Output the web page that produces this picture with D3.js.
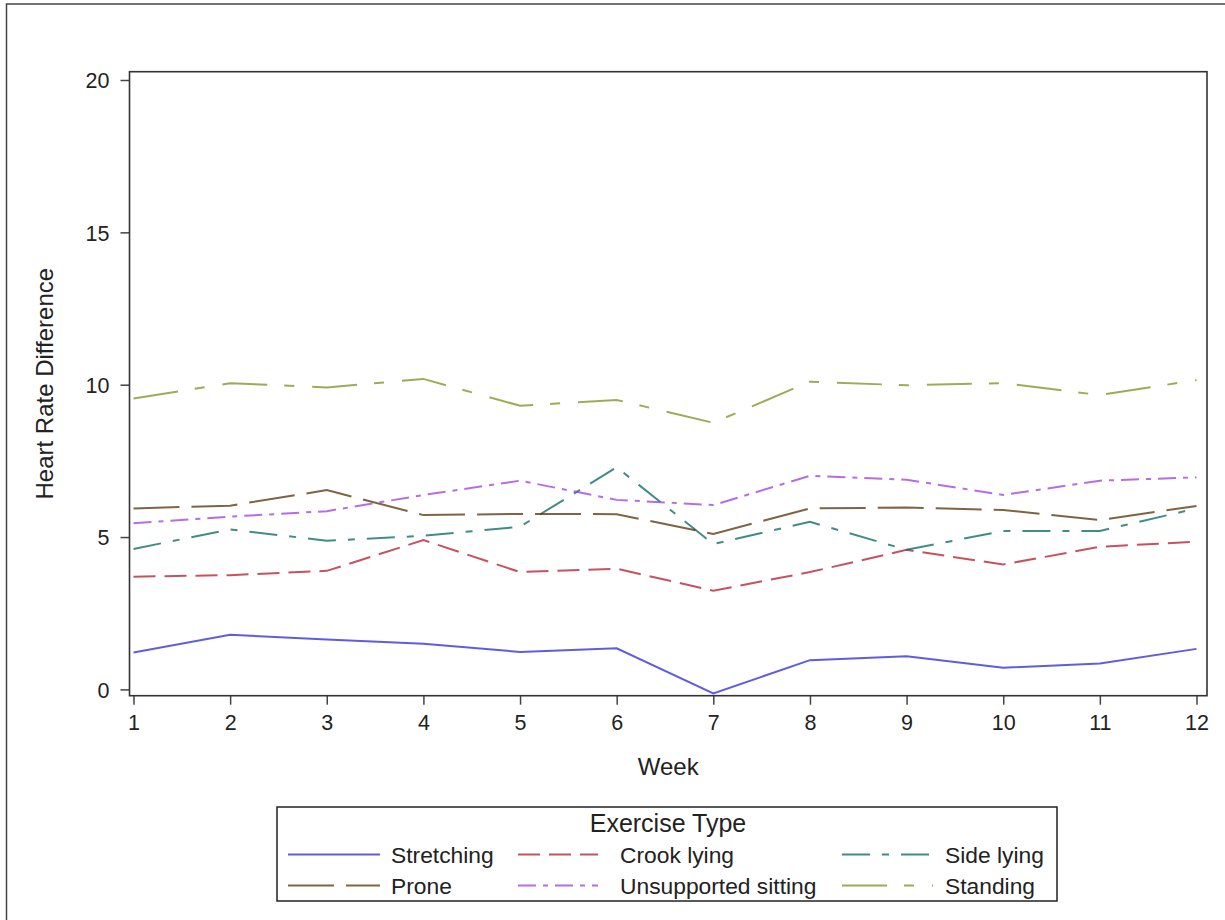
<!DOCTYPE html>
<html>
<head>
<meta charset="utf-8">
<script src="https://cdn.jsdelivr.net/npm/d3@7"></script>
<style>
    body { margin: 0; background: #fff; }
    svg { display: block; font-family: "Liberation Sans", Arial, sans-serif; }
    .tick text { fill: #222; }
</style>
</head>
<body>
<svg></svg>
<script>
const width = 1225;
const height = 920;

const weeks = [1, 2, 3, 4, 5, 6, 7, 8, 9, 10, 11, 12];
const yTicks = [0, 5, 10, 15, 20];

const seriesNames = ['Stretching', 'Crook lying', 'Side lying', 'Prone', 'Unsupported sitting', 'Standing'];

const stretching = [1.21, 1.79, 1.64, 1.50, 1.23, 1.35, -0.13, 0.96, 1.09, 0.71, 0.85, 1.33];
const crookLying = [3.70, 3.75, 3.89, 4.90, 3.85, 3.96, 3.24, 3.85, 4.58, 4.10, 4.68, 4.85];
const sideLying = [4.61, 5.25, 4.88, 5.04, 5.34, 7.29, 4.77, 5.50, 4.58, 5.20, 5.20, 5.94];
const prone = [5.94, 6.03, 6.54, 5.72, 5.76, 5.75, 5.10, 5.94, 5.97, 5.89, 5.56, 6.02];
const unsupportedSitting = [5.45, 5.67, 5.85, 6.38, 6.85, 6.22, 6.05, 7.01, 6.88, 6.38, 6.85, 6.96];
const standing = [9.55, 10.05, 9.91, 10.19, 9.31, 9.50, 8.75, 10.10, 9.98, 10.05, 9.66, 10.15];

// SAS "statistical" style contrast colours and line patterns
const colors = ['#2A25D9', '#B2182B', '#01665E', '#543005', '#9D3CDB', '#7F8E1F'];
const dashes = ['none', '22,9', '28,12,7,12', '46,12', '18,7,5,7', '45,17,10,18'];

const frame = { left: 129.5, right: 1207, top: 71.7, bottom: 695.7 };

const renderChart = () => {
    const svg = d3.select('svg')
        .attr('width', width)
        .attr('height', height);

    // outer border of the graph
    svg.append('rect')
        .attr('x', 6.5).attr('y', 4)
        .attr('width', width + 20).attr('height', height + 20)
        .attr('fill', 'none')
        .attr('stroke', '#444')
        .attr('stroke-width', 1.5);

    const x = d3.scaleLinear().domain([1, 12]).range([133.5, 1196.5]);
    const y = d3.scaleLinear().domain([0, 20]).range([689.4, 80]);

    const series = [stretching, crookLying, sideLying, prone, unsupportedSitting, standing]
        .map((vals, i) => ({ name: seriesNames[i], values: vals.map((v, j) => ({ week: weeks[j], value: v })) }));

    // axes
    const xAxis = svg.append('g')
        .attr('transform', `translate(0,${frame.bottom})`)
        .call(d3.axisBottom(x).tickValues(weeks).tickFormat(d3.format('d')).tickSize(9).tickSizeOuter(0));
    xAxis.select('.domain').remove();
    xAxis.selectAll('.tick line').attr('stroke', '#444').attr('stroke-width', 1.5);
    xAxis.selectAll('.tick text').attr('font-size', 21.5).attr('dy', '0.71em').attr('y', 19);

    const yAxis = svg.append('g')
        .attr('transform', `translate(${frame.left},0)`)
        .call(d3.axisLeft(y).tickValues(yTicks).tickSize(9).tickSizeOuter(0));
    yAxis.select('.domain').remove();
    yAxis.selectAll('.tick line').attr('stroke', '#444').attr('stroke-width', 1.5);
    yAxis.selectAll('.tick text').attr('font-size', 21.5).attr('x', -20).attr('dy', '0.36em');

    // lines
    const line = d3.line()
        .x(d => x(d.week))
        .y(d => y(d.value));

    svg.selectAll('.series')
        .data(series)
        .enter().append('path')
        .attr('class', 'series')
        .attr('d', d => line(d.values))
        .attr('fill', 'none')
        .attr('stroke', (d, i) => colors[i])
        .attr('stroke-opacity', 0.75)
        .attr('stroke-width', 2)
        .attr('stroke-dasharray', (d, i) => dashes[i]);

    // plot frame
    svg.append('rect')
        .attr('x', frame.left).attr('y', frame.top)
        .attr('width', frame.right - frame.left)
        .attr('height', frame.bottom - frame.top)
        .attr('fill', 'none')
        .attr('stroke', '#333')
        .attr('stroke-width', 1.6);

    // axis labels
    svg.append('text')
        .attr('x', (frame.left + frame.right) / 2)
        .attr('y', 775)
        .attr('text-anchor', 'middle')
        .attr('font-size', 24)
        .attr('fill', '#222')
        .text('Week');

    svg.append('text')
        .attr('transform', `translate(53,${(frame.top + frame.bottom) / 2}) rotate(-90)`)
        .attr('text-anchor', 'middle')
        .attr('font-size', 24)
        .attr('fill', '#222')
        .text('Heart Rate Difference');

    // legend
    const legend = svg.append('g');
    legend.append('rect')
        .attr('x', 277).attr('y', 807)
        .attr('width', 780).attr('height', 94)
        .attr('fill', 'none')
        .attr('stroke', '#222')
        .attr('stroke-width', 1.5);

    legend.append('text')
        .attr('x', 668).attr('y', 832)
        .attr('text-anchor', 'middle')
        .attr('font-size', 25)
        .attr('fill', '#222')
        .text('Exercise Type');

    const cols = [
        { x1: 288, x2: 380, tx: 391 },
        { x1: 518, x2: 598, tx: 620 },
        { x1: 842, x2: 933, tx: 945 },
    ];
    const rows = [854.5, 885.5];

    const item = legend.selectAll('.item')
        .data(series)
        .enter().append('g')
        .attr('class', 'item');

    item.append('line')
        .attr('x1', (d, i) => cols[i % 3].x1)
        .attr('x2', (d, i) => cols[i % 3].x2)
        .attr('y1', (d, i) => rows[Math.floor(i / 3)])
        .attr('y2', (d, i) => rows[Math.floor(i / 3)])
        .attr('stroke', (d, i) => colors[i])
        .attr('stroke-opacity', 0.75)
        .attr('stroke-width', 2)
        .attr('stroke-dasharray', (d, i) => dashes[i]);

    item.append('text')
        .attr('x', (d, i) => cols[i % 3].tx)
        .attr('y', (d, i) => rows[Math.floor(i / 3)] + 8)
        .attr('font-size', 22.8)
        .attr('fill', '#222')
        .text(d => d.name);
}

document.addEventListener('DOMContentLoaded', () => {
    renderChart()
});
</script>
</body>
</html>
